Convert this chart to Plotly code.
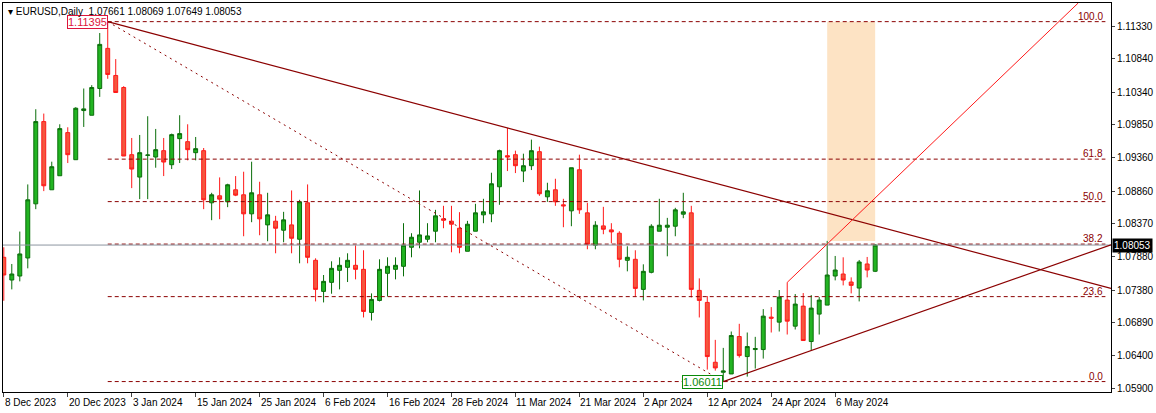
import plotly.graph_objects as go

opens = [1.0787,1.0753,1.0759,1.0786,1.0867,1.0990,1.0888,1.0909,1.09735,1.0933,
         1.10065,1.09995,1.10395,1.10995,1.1059,1.1041,1.09405,1.0907,1.09395,1.0937,
         1.09465,1.09255,1.09645,1.0960,1.09435,1.09465,1.08685,1.0879,1.0870,1.0888,
         1.08805,1.0852,1.08805,1.08355,1.0841,1.08275,1.08355,1.0814,1.08685,1.07825,
         1.0736,1.07495,1.07675,1.0772,1.0775,1.0769,1.07045,1.07225,1.0763,1.0769,
         1.07735,1.0802,1.08095,1.0814,1.0826,1.08445,1.0841,1.08305,1.0796,1.0826,
         1.08505,1.0852,1.08925,1.0939,1.09405,1.0916,1.0924,1.0945,1.08775,1.0888,
         1.08655,1.08565,1.0918,1.08535,1.0805,1.0834,1.0828,1.0823,1.07825,1.0784,
         1.0739,1.07645,1.0826,1.0832,1.08335,1.08515,1.08535,1.07375,1.07195,1.0630,
         1.0615,1.06125,1.06685,1.06385,1.0649,1.0649,1.06975,1.069,1.0723,1.0684,
         1.0714,1.0661,1.0702,1.07155,1.0759,1.0762,1.0750,1.0741,1.0777,1.07661]
highs = [1.0802,1.0777,1.08255,1.0896,1.10085,1.1002,1.0930,1.0986,1.09815,1.10115,
         1.10395,1.10445,1.11225,1.11395,1.10835,1.1043,1.09655,1.0970,1.0998,1.0979,
         1.09655,1.0972,1.09995,1.0986,1.0967,1.09505,1.08835,1.09065,1.0897,1.09085,
         1.0915,1.0930,1.0900,1.08835,1.0849,1.0855,1.0887,1.0873,1.0896,1.07855,
         1.07605,1.0781,1.0787,1.0793,1.0805,1.07975,1.0733,1.0784,1.0787,1.0787,
         1.0838,1.0823,1.0887,1.0838,1.0858,1.0864,1.0864,1.08545,1.08415,1.0867,
         1.08745,1.09135,1.0948,1.09805,1.09465,1.0942,1.0963,1.09525,1.08985,1.09045,
         1.08745,1.0921,1.09405,1.08685,1.0841,1.08625,1.0838,1.0826,1.08035,1.07975,
         1.07765,1.08365,1.08745,1.0846,1.0861,1.08835,1.0864,1.07555,1.0729,1.06635,
         1.06515,1.0676,1.06875,1.06745,1.0668,1.07095,1.07125,1.0738,1.07495,1.0732,
         1.07335,1.07305,1.07275,1.08115,1.0789,1.0787,1.0757,1.0783,1.07875,1.08069]
lows = [1.0722,1.0739,1.0751,1.07705,1.0859,1.0886,1.0888,1.0909,1.0928,1.0933,
        1.0982,1.09995,1.1027,1.1054,1.10335,1.09385,1.08905,1.0874,1.0874,1.0921,
        1.09085,1.0919,1.0928,1.0932,1.0932,1.0859,1.08425,1.0844,1.0862,1.08785,
        1.08185,1.08395,1.0820,1.0811,1.0793,1.08095,1.0793,1.0778,1.0778,1.0721,
        1.07195,1.07325,1.0739,1.0750,1.0754,1.0697,1.06925,1.0721,1.07285,1.0754,
        1.07585,1.0787,1.08005,1.08095,1.08095,1.08305,1.07945,1.0793,1.0796,1.0826,
        1.0838,1.08395,1.08655,1.0916,1.0913,1.08995,1.09175,1.0879,1.0870,1.0864,
        1.0832,1.08335,1.0852,1.0799,1.0799,1.08215,1.0808,1.0772,1.0766,1.07285,
        1.07225,1.0763,1.0826,1.07885,1.08185,1.08455,1.0727,1.0697,1.0619,1.06175,
        1.06011,1.06125,1.0637,1.06085,1.06205,1.06355,1.06745,1.0676,1.06715,1.0679,
        1.06625,1.06475,1.06715,1.07155,1.07525,1.0745,1.0733,1.0721,1.0757,1.07649]
closes = [1.07605,1.0762,1.0792,1.0873,1.0990,1.0894,1.09225,1.09795,1.09405,1.1010,
          1.1009,1.1041,1.11055,1.10605,1.10335,1.09385,1.0919,1.09435,1.0940,1.0948,
          1.09295,1.09705,1.0972,1.0948,1.09495,1.0873,1.08805,1.0874,1.08955,1.0880,
          1.0852,1.08835,1.08445,1.08505,1.08305,1.0843,1.08155,1.0870,1.0787,1.0739,
          1.0751,1.07705,1.0775,1.07825,1.0769,1.0706,1.0724,1.0769,1.07735,1.0775,
          1.0805,1.0817,1.08205,1.0819,1.0849,1.08425,1.08365,1.0802,1.08365,1.08535,
          1.0855,1.0897,1.09465,1.0937,1.0924,1.0924,1.09465,1.0882,1.08865,1.0870,
          1.0864,1.0921,1.0858,1.08065,1.0835,1.0829,1.0825,1.0784,1.0787,1.07405,
          1.0766,1.08335,1.0835,1.0835,1.0858,1.0855,1.0739,1.07225,1.06385,1.06215,
          1.0617,1.0670,1.0640,1.06535,1.06505,1.0699,1.0696,1.07275,1.06915,1.0717,
          1.06625,1.0711,1.0723,1.07605,1.0768,1.0753,1.0745,1.0780,1.0768,1.08053]

tick_bars = [0, 8, 16, 24, 32, 40, 48, 56, 64, 72, 80, 88, 96, 104]
tick_labels = ["8 Dec 2023", "20 Dec 2023", "3 Jan 2024", "15 Jan 2024", "25 Jan 2024",
               "6 Feb 2024", "16 Feb 2024", "28 Feb 2024", "11 Mar 2024", "21 Mar 2024",
               "2 Apr 2024", "12 Apr 2024", "24 Apr 2024", "6 May 2024"]
y_ticks = [1.11330, 1.10840, 1.10340, 1.09850, 1.09360, 1.08860, 1.08370,
           1.07880, 1.07380, 1.06890, 1.06400, 1.05900]
fib_levels = [0.0, 23.6, 38.2, 50.0, 61.8, 100.0]
fib_high, fib_low = 1.11395, 1.06011
hi_bar, lo_bar = 13, 90

X0, X1 = -0.1, 138.5
Y0, Y1 = 1.05855, 1.11674
n = len(opens)
xs = list(range(n))
FONT = "Liberation Sans"

fig = go.Figure(go.Candlestick(
    x=xs, open=opens, high=highs, low=lows, close=closes,
    increasing=dict(line=dict(color="#0a6e0a", width=1), fillcolor="#22b422"),
    decreasing=dict(line=dict(color="#ff1a1a", width=1), fillcolor="#f4563e"),
    whiskerwidth=0, showlegend=False, hoverinfo="skip"))

DR = "#8b0000"
shapes = []
shapes.append(dict(type="rect", x0=103, x1=109, y0=highs[103], y1=fib_high, xref="x", yref="y",
                   fillcolor="#fde3c4", line=dict(width=0), layer="below"))
for lv in fib_levels:
    p = fib_low + (fib_high - fib_low) * lv / 100
    shapes.append(dict(type="line", x0=hi_bar, x1=137.8, y0=p, y1=p, xref="x", yref="y",
                       line=dict(color=DR, width=1, dash="4px,3px")))
    fig.add_annotation(x=137.8, y=p, text=f"{lv:.1f}", xref="x", yref="y", showarrow=False,
                       xanchor="right", yanchor="bottom", yshift=-2,
                       font=dict(size=10, color=DR, family=FONT))
shapes.append(dict(type="line", x0=X0, x1=X1, y0=closes[-1], y1=closes[-1], xref="x", yref="y",
                   line=dict(color="#8c96a0", width=1)))
shapes.append(dict(type="line", x0=hi_bar, y0=fib_high, x1=lo_bar, y1=fib_low, xref="x", yref="y",
                   line=dict(color=DR, width=1, dash="2px,4px")))
s1 = (highs[63] - highs[13]) / (63 - 13)
shapes.append(dict(type="line", x0=13, y0=highs[13], x1=X1, y1=highs[13] + s1 * (X1 - 13),
                   xref="x", yref="y", line=dict(color=DR, width=1.2)))
s2 = (lows[101] - lows[90]) / (101 - 90)
shapes.append(dict(type="line", x0=90, y0=lows[90], x1=X1, y1=lows[90] + s2 * (X1 - 90),
                   xref="x", yref="y", line=dict(color=DR, width=1.2)))
s3 = (highs[103] - highs[98]) / 5.4
xe = 98 + (Y1 - highs[98]) / s3
shapes.append(dict(type="line", x0=98, y0=highs[98], x1=xe, y1=Y1, xref="x", yref="y",
                   line=dict(color="#ff1a1a", width=1)))
fig.update_layout(shapes=shapes)

fig.add_annotation(x=hi_bar, y=fib_high, text="1.11395", xref="x", yref="y", showarrow=False,
                   xanchor="right", yanchor="middle", bgcolor="white", bordercolor="#dc143c",
                   borderwidth=1, borderpad=0, font=dict(size=11, color="#dc143c", family=FONT))
fig.add_annotation(x=lo_bar, y=fib_low, text="1.06011", xref="x", yref="y", showarrow=False,
                   xanchor="right", yanchor="middle", bgcolor="white", bordercolor="#0a8a0a",
                   borderwidth=1, borderpad=0, font=dict(size=11, color="#0a8a0a", family=FONT))
fig.add_annotation(x=1.0, y=closes[-1], text=f"{closes[-1]:.5f}", xref="paper", yref="y",
                   showarrow=False, xanchor="left", yanchor="middle", bgcolor="black",
                   font=dict(size=10, color="white", family=FONT), borderpad=1, xshift=1)
fig.add_annotation(x=0.003, y=1.0, xref="paper", yref="paper", showarrow=False, xanchor="left",
                   yanchor="top", yshift=-1,
                   text=f"▾ EURUSD,Daily  {opens[-1]:.5f} {highs[-1]:.5f} {lows[-1]:.5f} {closes[-1]:.5f}",
                   font=dict(size=10, color="black", family=FONT))
for b, t in zip(tick_bars, tick_labels):
    fig.add_annotation(x=b, y=0, xref="x", yref="paper", text=t, showarrow=False,
                       xanchor="left", yanchor="top", yshift=-3, xshift=-1,
                       font=dict(size=10, color="black", family=FONT))

fig.update_layout(
    width=1156, height=413, margin=dict(l=3, r=45, t=3, b=21, autoexpand=False),
    paper_bgcolor="white", plot_bgcolor="white",
    xaxis=dict(range=[X0, X1], rangeslider=dict(visible=False), showgrid=False, zeroline=False,
               tickvals=tick_bars, showticklabels=False, ticks="outside", ticklen=4,
               showline=True, linecolor="black", mirror=True, automargin=False),
    yaxis=dict(range=[Y0, Y1], side="right", tickvals=y_ticks,
               ticktext=[f"{v:.5f}" for v in y_ticks], showgrid=False, zeroline=False,
               ticks="outside", ticklen=3, showline=True, linecolor="black", mirror=True,
               automargin=False, tickfont=dict(size=10, color="black", family=FONT)),
)
fig.write_html("out.html", config={"displayModeBar": False},
               post_script="document.body.style.margin='0';document.body.style.overflow='hidden';")
